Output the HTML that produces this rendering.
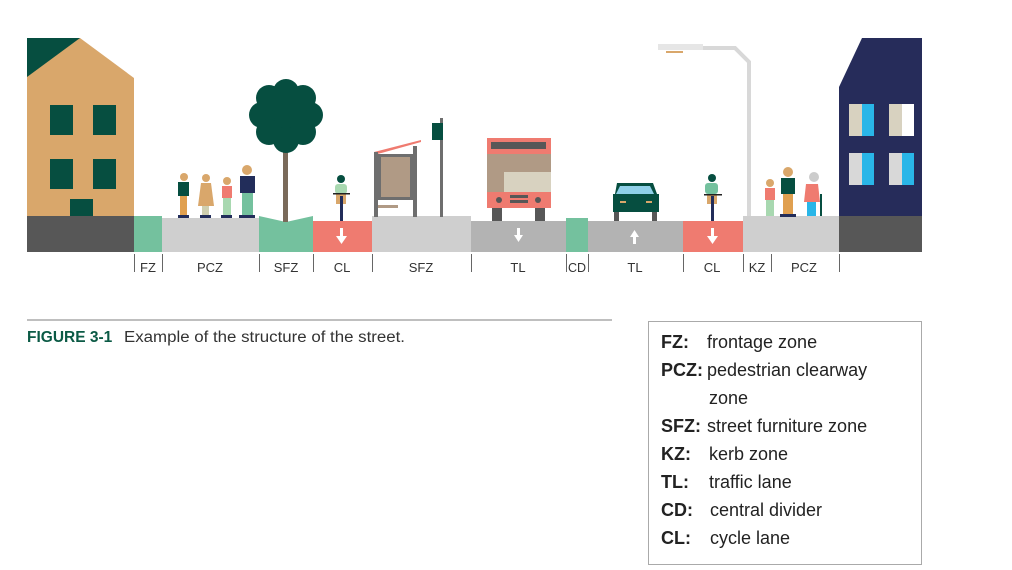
<!DOCTYPE html>
<html><head><meta charset="utf-8"><style>
body{margin:0;background:#fff;width:1012px;height:570px;overflow:hidden;position:relative;font-family:"Liberation Sans",sans-serif}
svg{position:absolute;left:0;top:0}
.lg{position:absolute;left:648px;top:321px;width:274px;height:244px;border:1.5px solid #aaa;box-sizing:border-box}
.row{position:absolute;left:12px;font-size:18px;color:#222;white-space:nowrap}
.row b{display:inline-block;color:#222}
</style></head><body>
<svg width="1012" height="570" viewBox="0 0 1012 570">
<polygon points="27,38 80,38 134,78 134,216 27,216" fill="#d9a76b"/>
<polygon points="27,38 80,38 27,77" fill="#064e40"/>
<rect x="50" y="105" width="23" height="30" fill="#064e40"/><rect x="93" y="105" width="23" height="30" fill="#064e40"/>
<rect x="50" y="159" width="23" height="30" fill="#064e40"/><rect x="93" y="159" width="23" height="30" fill="#064e40"/>
<rect x="70" y="199" width="23" height="18" fill="#064e40"/>
<rect x="27" y="216" width="107" height="36" fill="#575757"/>
<rect x="134" y="216" width="28" height="36" fill="#74c19e"/>
<rect x="162" y="218" width="97" height="34" fill="#cfcfcf"/>
<polygon points="259,216 286,222 313,216 313,252 259,252" fill="#74c19e"/>
<rect x="313" y="221" width="59" height="31" fill="#ef7b70"/>
<rect x="372" y="216" width="99" height="36" fill="#cfcfcf"/>
<rect x="471" y="221" width="95" height="31" fill="#b3b3b3"/>
<rect x="566" y="218" width="22" height="34" fill="#74c19e"/>
<rect x="588" y="221" width="95" height="31" fill="#b3b3b3"/>
<rect x="683" y="221" width="60" height="31" fill="#ef7b70"/>
<rect x="743" y="216" width="96" height="36" fill="#cfcfcf"/>
<rect x="839" y="216" width="83" height="36" fill="#575757"/>
<g fill="#fff">
<rect x="340" y="228" width="3" height="9"/><polygon points="336,236 347,236 341.5,244"/>
<rect x="517" y="228" width="3" height="8"/><polygon points="514,235 523,235 518.5,242"/>
<rect x="633" y="236" width="3" height="8"/><polygon points="630,237 639,237 634.5,230"/>
<rect x="711" y="228" width="3" height="9"/><polygon points="707,236 718,236 712.5,244"/>
</g>
<g stroke="#666" stroke-width="1">
<line x1="134.5" y1="254" x2="134.5" y2="272"/><line x1="162.5" y1="254" x2="162.5" y2="272"/>
<line x1="259.5" y1="254" x2="259.5" y2="272"/><line x1="313.5" y1="254" x2="313.5" y2="272"/>
<line x1="372.5" y1="254" x2="372.5" y2="272"/><line x1="471.5" y1="254" x2="471.5" y2="272"/>
<line x1="566.5" y1="254" x2="566.5" y2="272"/><line x1="588.5" y1="254" x2="588.5" y2="272"/>
<line x1="683.5" y1="254" x2="683.5" y2="272"/><line x1="743.5" y1="254" x2="743.5" y2="272"/>
<line x1="771.5" y1="254" x2="771.5" y2="272"/><line x1="839.5" y1="254" x2="839.5" y2="272"/>
</g>
<g font-size="13" fill="#333" text-anchor="middle" font-family="Liberation Sans">
<text x="148" y="272">FZ</text><text x="210" y="272">PCZ</text><text x="286" y="272">SFZ</text>
<text x="342" y="272">CL</text><text x="421" y="272">SFZ</text><text x="518" y="272">TL</text>
<text x="577" y="272" font-size="12.5">CD</text><text x="635" y="272">TL</text><text x="712" y="272">CL</text>
<text x="757" y="272">KZ</text><text x="804" y="272">PCZ</text>
</g>
<rect x="283" y="150" width="5" height="72" fill="#7a6a5a"/>
<g fill="#064e40"><circle cx="286" cy="115" r="31"/><circle cx="286" cy="92" r="13"/><circle cx="286" cy="140" r="13"/><circle cx="262" cy="115" r="13"/><circle cx="310" cy="115" r="13"/><circle cx="269" cy="98" r="13"/><circle cx="303" cy="98" r="13"/><circle cx="269" cy="132" r="13"/><circle cx="303" cy="132" r="13"/></g>
<g>
<circle cx="184" cy="177" r="4" fill="#d9a76b"/><rect x="178" y="182" width="11" height="14" fill="#064e40"/><rect x="180" y="196" width="7" height="20" fill="#e0a050"/><rect x="178" y="215" width="11" height="3" fill="#222d5a"/>
<circle cx="206" cy="178" r="4" fill="#d9a76b"/><polygon points="201,183 211,183 214,206 198,206" fill="#d9a76b"/><rect x="202" y="206" width="7" height="10" fill="#cfcfb0"/><rect x="200" y="215" width="11" height="3" fill="#222d5a"/>
<circle cx="227" cy="181" r="4" fill="#d9a76b"/><rect x="222" y="186" width="10" height="12" fill="#ef7b70"/><rect x="223" y="198" width="8" height="18" fill="#a8d8b0"/><rect x="221" y="215" width="11" height="3" fill="#222d5a"/>
<circle cx="247" cy="170" r="5" fill="#d9a76b"/><rect x="240" y="176" width="15" height="17" fill="#222d5a"/><rect x="242" y="193" width="11" height="23" fill="#74c19e"/><rect x="239" y="215" width="16" height="3" fill="#222d5a"/>
</g>
<circle cx="341" cy="179" r="4" fill="#064e40"/><rect x="335" y="184" width="12" height="10" rx="3" fill="#a8d8b0"/><rect x="336" y="194" width="10" height="10" fill="#d9a76b"/><rect x="340" y="196" width="3" height="25" fill="#222d5a"/><rect x="333" y="193" width="17" height="1.5" fill="#222"/>
<polygon points="374,152 421,140 421,142 374,155" fill="#ef7b70"/>
<rect x="374" y="152" width="4" height="65" fill="#6e6e6e"/><rect x="413" y="146" width="4" height="71" fill="#6e6e6e"/>
<rect x="378" y="154" width="35" height="46" fill="#6e6e6e"/><rect x="381" y="157" width="29" height="40" fill="#b09a85"/>
<rect x="378" y="205" width="20" height="3" fill="#b09a85"/>
<rect x="440" y="118" width="3" height="99" fill="#6e6e6e"/><rect x="432" y="123" width="11" height="17" fill="#064e40"/>
<rect x="487" y="138" width="64" height="70" fill="#ef7b70"/><rect x="491" y="142" width="55" height="7" fill="#575757"/>
<rect x="487" y="154" width="64" height="38" fill="#b09a85"/><rect x="504" y="172" width="47" height="20" fill="#d8d2c0"/>
<circle cx="499" cy="200" r="3" fill="#575757"/><circle cx="538" cy="200" r="3" fill="#575757"/><rect x="510" y="195" width="18" height="3" fill="#575757"/><rect x="510" y="200" width="18" height="3" fill="#575757"/>
<rect x="492" y="208" width="10" height="13" fill="#575757"/><rect x="535" y="208" width="10" height="13" fill="#575757"/>
<path d="M617,183 L653,183 L657,194 L659,194 L659,212 L613,212 L613,194 L615,194 Z" fill="#064e40"/>
<polygon points="620,186 650,186 654,194 616,194" fill="#8fd0e8"/>
<rect x="620" y="201" width="6" height="2" fill="#d9a76b"/><rect x="646" y="201" width="6" height="2" fill="#d9a76b"/>
<rect x="614" y="212" width="5" height="9" fill="#575757"/><rect x="652" y="212" width="5" height="9" fill="#575757"/>
<circle cx="712" cy="178" r="4" fill="#064e40"/><rect x="705" y="183" width="13" height="11" rx="3" fill="#74c19e"/><rect x="707" y="194" width="10" height="10" fill="#d9a76b"/><rect x="711" y="196" width="3" height="25" fill="#222d5a"/><rect x="704" y="194" width="18" height="1.5" fill="#222"/>
<path d="M686,48 L735,48 L749,62 L749,216" stroke="#d8d8d8" stroke-width="4" fill="none"/>
<rect x="658" y="44" width="45" height="6" fill="#e6e6e6"/><rect x="666" y="51" width="17" height="2" fill="#d9a76b"/>
<circle cx="770" cy="183" r="4" fill="#d9a76b"/><rect x="765" y="188" width="10" height="12" fill="#ef7b70"/><rect x="766" y="200" width="8" height="16" fill="#a8d8b0"/>
<circle cx="788" cy="172" r="5" fill="#d9a76b"/><rect x="781" y="178" width="14" height="16" fill="#064e40"/><rect x="783" y="194" width="10" height="22" fill="#e0a050"/><rect x="780" y="214" width="16" height="3" fill="#222d5a"/>
<circle cx="814" cy="177" r="5" fill="#ccc"/><polygon points="806,184 818,184 820,202 804,202" fill="#ef7b70"/><rect x="807" y="202" width="9" height="14" fill="#29b6e8"/><rect x="820" y="194" width="2" height="22" fill="#064e40"/>
<polygon points="839,87 862,38 922,38 922,216 839,216" fill="#262c5a"/>
<rect x="849" y="104" width="13" height="32" fill="#d8d2c0"/><rect x="862" y="104" width="12" height="32" fill="#29b6e8"/>
<rect x="889" y="104" width="13" height="32" fill="#d8d2c0"/><rect x="902" y="104" width="12" height="32" fill="#fff"/>
<rect x="849" y="153" width="13" height="32" fill="#d8d8d8"/><rect x="862" y="153" width="12" height="32" fill="#29b6e8"/>
<rect x="889" y="153" width="13" height="32" fill="#d8d8d8"/><rect x="902" y="153" width="12" height="32" fill="#29b6e8"/>
<line x1="27" y1="320" x2="612" y2="320" stroke="#aaa" stroke-width="1.5"/>
<text x="27" y="342" font-size="15.5" font-family="Liberation Sans" fill="#0b5a45" font-weight="bold">FIGURE 3-1</text>
<text x="124" y="342" font-size="15.5" font-family="Liberation Sans" fill="#333" textLength="281" lengthAdjust="spacingAndGlyphs">Example of the structure of the street.</text>
</svg>
<div class="lg">
<div class="row" style="top:10px"><b style="width:46px">FZ:</b>frontage zone</div>
<div class="row" style="top:38px"><b style="width:46px">PCZ:</b>pedestrian clearway</div>
<div class="row" style="top:66px;left:60px">zone</div>
<div class="row" style="top:94px"><b style="width:46px">SFZ:</b>street furniture zone</div>
<div class="row" style="top:122px"><b style="width:48px">KZ:</b>kerb zone</div>
<div class="row" style="top:150px"><b style="width:48px">TL:</b>traffic lane</div>
<div class="row" style="top:178px"><b style="width:49px">CD:</b>central divider</div>
<div class="row" style="top:206px"><b style="width:49px">CL:</b>cycle lane</div>
</div>
</body></html>
